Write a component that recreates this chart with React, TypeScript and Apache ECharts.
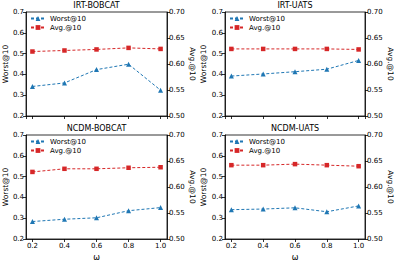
import React, { useEffect, useRef } from "react";
import * as echarts from "echarts";

const omega = [0.2, 0.4, 0.6, 0.8, 1.0];
const panelTitles = ["IRT-BOBCAT", "IRT-UATS", "NCDM-BOBCAT", "NCDM-UATS"];
const irtBobcatWorst = [0.342, 0.359, 0.423, 0.449, 0.324];
const irtBobcatAvg = [0.624, 0.626, 0.628, 0.631, 0.629];
const irtUatsWorst = [0.392, 0.402, 0.413, 0.425, 0.467];
const irtUatsAvg = [0.629, 0.629, 0.629, 0.629, 0.628];
const ncdmBobcatWorst = [0.284, 0.295, 0.302, 0.336, 0.351];
const ncdmBobcatAvg = [0.629, 0.635, 0.635, 0.637, 0.638];
const ncdmUatsWorst = [0.341, 0.344, 0.35, 0.331, 0.359];
const ncdmUatsAvg = [0.642, 0.642, 0.644, 0.642, 0.64];

const worstSets = [irtBobcatWorst, irtUatsWorst, ncdmBobcatWorst, ncdmUatsWorst];
const avgSets = [irtBobcatAvg, irtUatsAvg, ncdmBobcatAvg, ncdmUatsAvg];

const FONT = "DejaVu Sans";
const BLUE = "#1f77b4";
const RED = "#d62728";

const grids = [
  { left: 26, top: 12, width: 141, height: 104 },
  { left: 225, top: 12, width: 140, height: 104 },
  { left: 26, top: 135, width: 141, height: 104 },
  { left: 225, top: 135, width: 140, height: 104 },
];

export default function App() {
  const ref = useRef<HTMLDivElement>(null);
  useEffect(() => {
    if (!ref.current) return;
    const chart = echarts.init(ref.current, null, { renderer: "svg" });
    const axisLine = { show: true, lineStyle: { color: "#000", width: 0.8 } };
    const axisTick = { show: true, length: 3, lineStyle: { color: "#000", width: 0.8 } };
    const labelStyle = { color: "#000", fontSize: 7, fontFamily: FONT };

    const xAxis: any[] = [];
    const yAxis: any[] = [];
    const series: any[] = [];
    const legend: any[] = [];
    const title: any[] = [];

    grids.forEach((g, i) => {
      const bottomRow = i >= 2;
      xAxis.push({
        type: "value",
        gridIndex: i,
        min: 0.16,
        max: 1.04,
        axisLine,
        axisTick,
        splitLine: { show: false },
        axisLabel: {
          show: bottomRow,
          ...labelStyle,
          margin: 3,
          showMinLabel: false,
          showMaxLabel: false,
          formatter: (v: number) => v.toFixed(1),
        },
        name: bottomRow ? "ω" : "",
        nameLocation: "middle",
        nameGap: 14,
        nameTextStyle: { color: "#000", fontSize: 8, fontFamily: FONT },
      });
      yAxis.push({
        type: "value",
        gridIndex: i,
        position: "left",
        min: 0.2,
        max: 0.7,
        interval: 0.1,
        axisLine,
        axisTick,
        splitLine: { show: false },
        axisLabel: { ...labelStyle, margin: 2, formatter: (v: number) => v.toFixed(1) },
        name: "Worst@10",
        nameLocation: "middle",
        nameGap: 13,
        nameTextStyle: { color: "#000", fontSize: 7.5, fontFamily: FONT },
      });
      yAxis.push({
        type: "value",
        gridIndex: i,
        position: "right",
        min: 0.5,
        max: 0.7,
        interval: 0.05,
        axisLine,
        axisTick,
        splitLine: { show: false },
        axisLabel: { ...labelStyle, margin: 2, formatter: (v: number) => v.toFixed(2) },
        name: "Avg.@10",
        nameLocation: "middle",
        nameRotate: -90,
        nameGap: 21,
        nameTextStyle: { color: "#000", fontSize: 7.5, fontFamily: FONT },
      });
      series.push({
        type: "line",
        name: "Worst@10",
        xAxisIndex: i,
        yAxisIndex: i * 2,
        data: omega.map((x, k) => [x, worstSets[i][k]]),
        symbol: "triangle",
        symbolSize: 5,
        itemStyle: { color: BLUE },
        lineStyle: { color: BLUE, width: 1, type: [3, 2] },
      });
      series.push({
        type: "line",
        name: "Avg.@10",
        xAxisIndex: i,
        yAxisIndex: i * 2 + 1,
        data: omega.map((x, k) => [x, avgSets[i][k]]),
        symbol: "rect",
        symbolSize: 4.5,
        itemStyle: { color: RED },
        lineStyle: { color: RED, width: 1, type: [3, 2] },
      });
      legend.push({
        orient: "vertical",
        left: g.left + 4,
        top: g.top + 3,
        itemWidth: 14,
        itemHeight: 6,
        itemGap: 2,
        padding: 0,
        data: ["Worst@10", "Avg.@10"],
        textStyle: { color: "#000", fontSize: 7, fontFamily: FONT },
      });
      title.push({
        text: panelTitles[i],
        left: g.left + g.width / 2,
        top: g.top - 11,
        textAlign: "center",
        padding: 0,
        textStyle: { color: "#000", fontSize: 8, fontWeight: "normal", fontFamily: FONT },
      });
    });

    chart.setOption({
      animation: false,
      backgroundColor: "#fff",
      title,
      legend,
      grid: grids.map((g) => ({
        ...g,
        show: true,
        borderColor: "#000",
        borderWidth: 0.8,
        backgroundColor: "transparent",
      })),
      xAxis,
      yAxis,
      series,
    });
    return () => chart.dispose();
  }, []);
  return (
    <div
      ref={ref}
      style={{ position: "fixed", left: 0, top: 0, width: 397, height: 262 }}
    />
  );
}
